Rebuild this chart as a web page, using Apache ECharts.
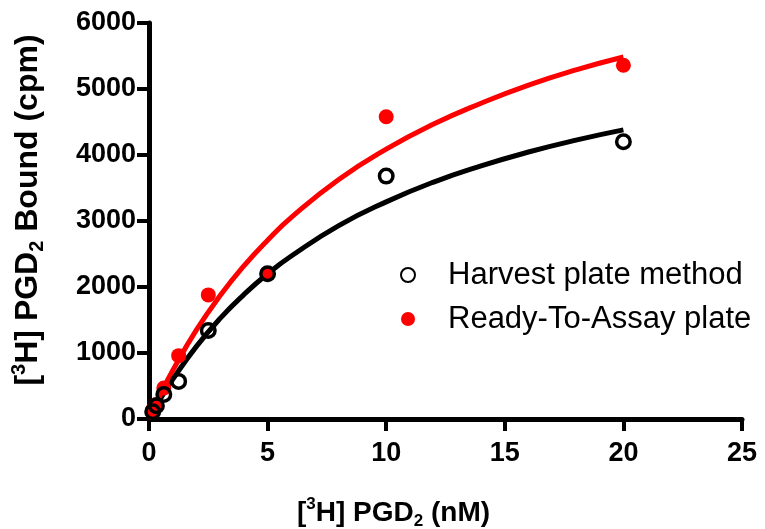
<!DOCTYPE html>
<html><head><meta charset="utf-8">
<script src="https://cdn.jsdelivr.net/npm/echarts@6/dist/echarts.min.js"></script>
<style>html,body{margin:0;padding:0;background:#fff}#c{width:765px;height:529px}</style>
</head><body><div id="c"></div>
<script>
// concentrations (nM)
const conc = [0.156, 0.3125, 0.625, 1.25, 2.5, 5, 10, 20];
// measured points (cpm)
const harvest = [110, 200, 370, 570, 1340, 2200, 3680, 4200];
const readyToAssay = [140, 220, 470, 960, 1880, 2200, 4580, 5360];
// fitted curves
const curveX = [0, 0.5, 1, 2, 3, 4, 5, 6, 8, 10, 12, 14, 16, 18, 20];
const harvestFit = [0, 315, 600, 1100, 1525, 1885, 2200, 2470, 2930, 3290, 3590, 3835, 4045, 4225, 4380];
const rtaFit = [0, 385, 735, 1350, 1870, 2320, 2710, 3055, 3630, 4090, 4470, 4785, 5060, 5290, 5485];
const xTicks = [0, 25, 5];
const yTicks = [0, 6000, 1000];
const names = ['Harvest plate method', 'Ready-To-Assay plate'];

const zip = (a, b) => a.map((v, i) => [v, b[i]]);
const FF = '"Liberation Sans", Arial, sans-serif';
function richSet(size) {
  const s = Math.round(size * 0.62);
  return {
    b: {fontSize: size, fontWeight: 'bold', fontFamily: FF, color: '#000', lineHeight: size + 6},
    sup: {fontSize: s, fontWeight: 'bold', fontFamily: FF, color: '#000', verticalAlign: 'top', lineHeight: size + 6, padding: [0, 0, 12, 0]},
    sub: {fontSize: s, fontWeight: 'bold', fontFamily: FF, color: '#000', verticalAlign: 'bottom', lineHeight: size + 6, padding: [10, 0, 0, 0]}
  };
}
const chart = echarts.init(document.getElementById('c'), null, {renderer: 'canvas'});
chart.setOption({
  animation: false,
  backgroundColor: '#fff',
  grid: {left: 149, right: 23, top: 23, bottom: 110, containLabel: false, outerBoundsMode: 'none'},
  legend: {
    data: names,
    orient: 'vertical',
    left: 395, top: 253,
    itemWidth: 14, itemHeight: 14,
    itemGap: 10,
    textStyle: {fontSize: 31, fontFamily: FF, color: '#000', lineHeight: 34, padding: [0, 0, 0, 28]}
  },
  xAxis: {
    type: 'value', min: xTicks[0], max: xTicks[1], interval: xTicks[2],
    name: '{b|[}{sup|3}{b|H] PGD}{sub|2}{b| (nM)}',
    nameLocation: 'middle', nameGap: 77,
    nameTextStyle: {rich: richSet(28), padding: [0, 104, 0, 0]},
    splitLine: {show: false},
    axisLine: {lineStyle: {color: '#000', width: 5}},
    axisTick: {length: 12, lineStyle: {color: '#000', width: 4}},
    axisLabel: {margin: 21, fontSize: 27, fontWeight: 'bold', fontFamily: FF, color: '#000'}
  },
  yAxis: {
    type: 'value', min: yTicks[0], max: yTicks[1], interval: yTicks[2],
    name: '{b|[}{sup|3}{b|H] PGD}{sub|2}{b| Bound (cpm)}',
    nameLocation: 'middle', nameGap: 102,
    nameTextStyle: {rich: richSet(32), padding: [0, 0, 0, 22]},
    splitLine: {show: false},
    axisLine: {lineStyle: {color: '#000', width: 5}},
    axisTick: {length: 12, lineStyle: {color: '#000', width: 4}},
    axisLabel: {margin: 13, fontSize: 27, fontWeight: 'bold', fontFamily: FF, color: '#000',
      formatter: v => String(v)}
  },
  series: [
    {name: 'harvestFit', type: 'line', data: zip(curveX, harvestFit), smooth: true, showSymbol: false,
     lineStyle: {color: '#000', width: 5}, z: 2},
    {name: 'rtaFit', type: 'line', data: zip(curveX, rtaFit), smooth: true, showSymbol: false,
     lineStyle: {color: '#ff0000', width: 5}, z: 2},
    {name: names[1], type: 'scatter', data: zip(conc, readyToAssay), symbol: 'circle', symbolSize: 15,
     itemStyle: {color: '#ff0000', opacity: 1}, z: 3},
    {name: names[0], type: 'scatter', data: zip(conc, harvest), symbol: 'circle', symbolSize: 13.5,
     itemStyle: {color: 'rgba(255,255,255,0)', borderColor: '#000', borderWidth: 3.5, opacity: 1}, z: 4}
  ]
});
</script></body></html>
